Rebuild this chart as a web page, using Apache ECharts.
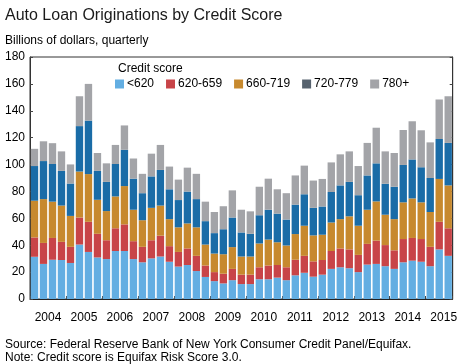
<!DOCTYPE html>
<html>
<head>
<meta charset="utf-8">
<script src="https://cdn.jsdelivr.net/npm/echarts@6/dist/echarts.min.js"></script>
<style>
html,body{margin:0;padding:0;background:#fff;}
#chart{width:460px;height:364px;}
</style>
</head>
<body>
<div id="chart"></div>
<script>
const categories = [
 '2004Q1','2004Q2','2004Q3','2004Q4','2005Q1','2005Q2','2005Q3','2005Q4',
 '2006Q1','2006Q2','2006Q3','2006Q4','2007Q1','2007Q2','2007Q3','2007Q4',
 '2008Q1','2008Q2','2008Q3','2008Q4','2009Q1','2009Q2','2009Q3','2009Q4',
 '2010Q1','2010Q2','2010Q3','2010Q4','2011Q1','2011Q2','2011Q3','2011Q4',
 '2012Q1','2012Q2','2012Q3','2012Q4','2013Q1','2013Q2','2013Q3','2013Q4',
 '2014Q1','2014Q2','2014Q3','2014Q4','2015Q1','2015Q2','2015Q3'
];
const seriesNames = ['<620','620-659','660-719','720-779','780+'];
const lt620 = [31.4,26.1,29.2,29,26.8,40.5,35,30.9,29.7,35.7,35.7,29.7,27.3,30.2,31.6,27.7,24.1,25.3,20.8,16.4,13.3,11.6,14,11.1,11.1,14.7,14.7,15.9,14,17.6,19.5,16.6,18.1,22.4,23.6,22.9,20,25.6,26.1,24.4,22.4,27.3,28.5,27.7,24.4,36.9,32.1];
const s620 = [14.4,15.6,16.2,13.5,12,20.1,22.4,17.6,14,16.9,19.8,13.3,11.5,13.5,15.5,11.6,10.9,12.3,11.3,8.5,6.7,7.2,8.4,7,7,8.9,10.2,9.4,9.6,11.6,12.6,11.4,10.9,13.3,14,14,12.8,15.4,17.3,15.7,13.8,17.3,16.9,16.9,14.4,20.5,20.5];
const s660 = [27.3,32.6,27,27,23,34.2,35.5,25.3,21.7,23.7,28.5,23.4,19.8,24.1,22.4,20.1,18.3,18.6,21.2,15.6,13.8,14.5,16.2,13.5,13.5,17.7,19.3,16.9,16.2,19.1,22.4,19.3,18.8,21.2,21.8,24.6,21.7,25.4,29.2,22.6,23.2,27.3,29.4,27.3,25.9,31.9,31.9];
const s720 = [25.8,28.3,28,25.8,24.1,33.8,39.8,21.5,21.7,24.1,27,23.1,20.1,23.4,26.5,22.2,20.3,23.7,21,17.4,15.2,18.6,22,17.9,16.9,21,22.2,21.3,19.3,21.9,23.4,20.5,21,22.7,25.1,25.6,22.7,25.5,28.3,23,24.1,27.8,29,26.1,25.3,29.7,31.6];
const s780 = [12.8,14.7,15.5,14.5,14.2,22.2,27.3,13.3,13.8,14.2,18.1,15,14.4,16.9,18.6,16.9,15.2,17.8,18.8,14.5,15.7,17.1,20.2,16.9,16.7,21.2,23.1,18.1,19.6,21.7,21.3,20.3,20.5,22,23.1,22.7,21.7,24.2,26.5,24.1,25.1,26,28.4,27.5,26.5,29.4,34.7];
const yMin = 0, yMax = 180, yStep = 20;

const colors = ['#63AEE2','#C84448','#C7892E','#1A6CA7','#A3A4A8'];
const legendColors = ['#63AEE2','#C84448','#C7892E','#56626E','#A3A4A8'];
const allData = [lt620, s620, s660, s720, s780];
const FONT = '"Liberation Sans", Arial, sans-serif';

const chart = echarts.init(document.getElementById('chart'), null, {renderer:'canvas'});
const option = {
  animation: false,
  backgroundColor: '#fff',
  textStyle: {fontFamily: FONT},
  title: [
    {text: 'Auto Loan Originations by Credit Score', left: 0, top: 3,
     textStyle: {fontFamily: FONT, fontSize: 16, fontWeight: 'normal', color: '#1a1a1a'}},
    {text: 'Billions of dollars, quarterly', left: 0, top: 30,
     textStyle: {fontFamily: FONT, fontSize: 12, fontWeight: 'normal', color: '#000'}},
    {text: 'Credit score', left: 113, top: 58,
     textStyle: {fontFamily: FONT, fontSize: 12, fontWeight: 'normal', color: '#000'}},
    {text: 'Source: Federal Reserve Bank of New York Consumer Credit Panel/Equifax.', left: 0, top: 334,
     textStyle: {fontFamily: FONT, fontSize: 12, fontWeight: 'normal', color: '#000'}},
    {text: 'Note: Credit score is Equifax Risk Score 3.0.', left: 0, top: 347,
     textStyle: {fontFamily: FONT, fontSize: 12, fontWeight: 'normal', color: '#000'}}
  ],
  legend: {
    left: 110, top: 73, itemWidth: 9, itemHeight: 9, itemGap: 12,
    icon: 'rect',
    textStyle: {fontFamily: FONT, fontSize: 12, color: '#000', padding: [0,0,0,-2]},
    data: seriesNames.map((n, i) => ({name: n, itemStyle: {color: legendColors[i]}}))
  },
  grid: {left: 30, right: 2, top: 57, bottom: 65, show: true, borderColor: '#333', borderWidth: 1},
  xAxis: {
    type: 'category', data: categories, boundaryGap: true,
    axisLine: {show: true, lineStyle: {color: '#222', width: 1}},
    axisTick: {show: true, inside: true, length: 3, interval: (i) => i % 4 === 0, lineStyle: {color: '#444'}},
    axisLabel: {
      interval: (i) => i % 4 === 1,
      formatter: (v) => '{a|' + v.slice(0, 4) + '}',
      rich: {a: {fontFamily: FONT, fontSize: 12, color: '#000', padding: [0, 0, 0, 9]}},
      margin: 13
    },
    splitLine: {show: false}
  },
  yAxis: [
    {type: 'value', min: yMin, max: yMax, interval: yStep, position: 'left',
     axisLine: {show: true, lineStyle: {color: '#333'}},
     axisTick: {show: true, inside: true, length: 3, lineStyle: {color: '#444'}},
     axisLabel: {fontFamily: FONT, fontSize: 12, color: '#000', margin: 5},
     splitLine: {show: false}},
    {type: 'value', min: yMin, max: yMax, interval: yStep, position: 'right',
     axisLine: {show: true, lineStyle: {color: '#333'}},
     axisTick: {show: true, inside: true, length: 3, lineStyle: {color: '#444'}},
     axisLabel: {show: false}, splitLine: {show: false}}
  ],
  series: seriesNames.map((n, i) => ({
    name: n, type: 'bar', stack: 'total', data: allData[i],
    barCategoryGap: '18%',
    itemStyle: {color: colors[i]},
    emphasis: {disabled: true}
  }))
};
chart.setOption(option);
</script>
</body>
</html>
